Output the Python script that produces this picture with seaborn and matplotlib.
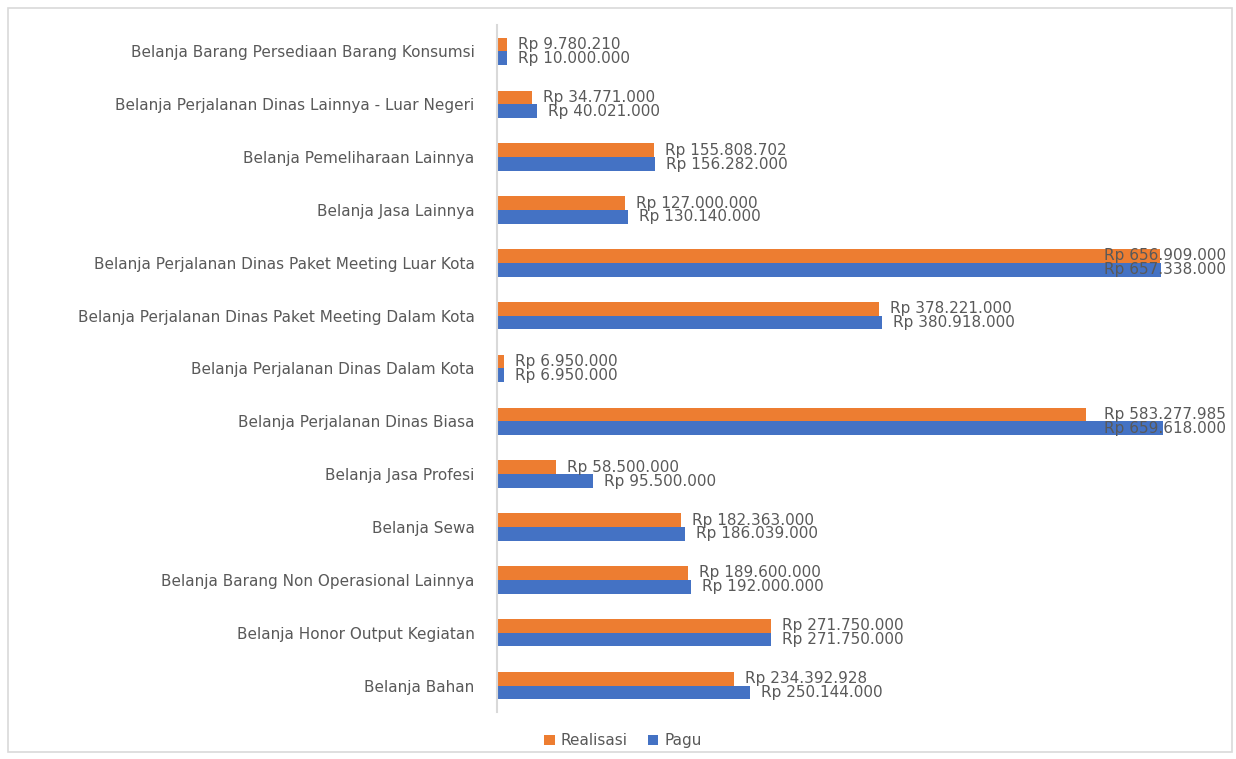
import matplotlib
matplotlib.use("Agg")
import matplotlib.pyplot as plt
import matplotlib.transforms as mtransforms
from matplotlib.patches import Rectangle
import seaborn as sns
import pandas as pd

categories = [
    "Belanja Barang Persediaan Barang Konsumsi",
    "Belanja Perjalanan Dinas Lainnya - Luar Negeri",
    "Belanja Pemeliharaan Lainnya",
    "Belanja Jasa Lainnya",
    "Belanja Perjalanan Dinas Paket Meeting Luar Kota",
    "Belanja Perjalanan Dinas Paket Meeting Dalam Kota",
    "Belanja Perjalanan Dinas Dalam Kota",
    "Belanja Perjalanan Dinas Biasa",
    "Belanja Jasa Profesi",
    "Belanja Sewa",
    "Belanja Barang Non Operasional Lainnya",
    "Belanja Honor Output Kegiatan",
    "Belanja Bahan",
]
realisasi = [9780210, 34771000, 155808702, 127000000, 656909000, 378221000,
             6950000, 583277985, 58500000, 182363000, 189600000, 271750000, 234392928]
pagu = [10000000, 40021000, 156282000, 130140000, 657338000, 380918000,
        6950000, 659618000, 95500000, 186039000, 192000000, 271750000, 250144000]
series = ["Realisasi", "Pagu"]
colors = ["#ED7D31", "#4472C4"]

df = pd.DataFrame({
    "Kategori": categories * 2,
    "Nilai": realisasi + pagu,
    "Seri": [series[0]] * len(categories) + [series[1]] * len(categories),
})

sns.set_theme(style="white")
plt.rcParams["font.family"] = ["DejaVu Sans"]
text_color = "#595959"
fs = 11

fig = plt.figure(figsize=(12.36, 7.59), dpi=100)
ax = fig.add_axes([0.402, 0.062, 0.572, 0.905])

sns.barplot(data=df, y="Kategori", x="Nilai", hue="Seri", order=categories,
            hue_order=series, palette=colors, orient="h", width=0.52,
            saturation=1, linewidth=0, ax=ax, legend=True)

xmax = 700e6
ax.set_xlim(0, xmax)
ax.set_xlabel("")
ax.set_ylabel("")
ax.set_xticks([])
for s in ["top", "right", "bottom"]:
    ax.spines[s].set_visible(False)
ax.spines["left"].set_color("#d9d9d9")
ax.spines["left"].set_linewidth(1.5)
ax.tick_params(axis="y", length=0, pad=16, labelsize=fs, labelcolor=text_color)

def fmt(v):
    return "Rp " + f"{v:,.0f}".replace(",", ".")

limit_frac = 1.031
blend = mtransforms.blended_transform_factory(ax.transAxes, ax.transData)
for container in ax.containers:
    for bar in container:
        v = bar.get_width()
        yc = bar.get_y() + bar.get_height() / 2
        label = fmt(v)
        if v > 0.8 * xmax:
            ax.text(limit_frac, yc, label, transform=blend, ha="right", va="center",
                    fontsize=fs, color=text_color, clip_on=False)
        else:
            ax.annotate(label, (v, yc), xytext=(8, 0), textcoords="offset points",
                        ha="left", va="center", fontsize=fs, color=text_color)

leg = ax.get_legend()
handles, labels = ax.get_legend_handles_labels()
leg.remove()
fig.legend(handles, labels, loc="center", bbox_to_anchor=(0.504, 0.024), ncol=2,
           frameon=False, fontsize=fs, labelcolor=text_color, handlelength=0.7,
           handleheight=0.7, handletextpad=0.4, columnspacing=1.3)

fig.patches.append(Rectangle((8 / 1236, 7 / 759), 1224 / 1236, 744 / 759,
                             transform=fig.transFigure, fill=False,
                             edgecolor="#d9d9d9", linewidth=1.2))

fig.savefig("out.png", dpi=100, facecolor="white")
